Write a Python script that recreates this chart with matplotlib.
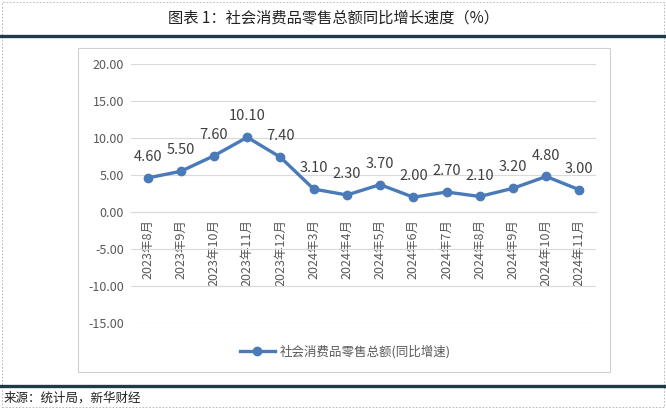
import matplotlib.pyplot as plt
from matplotlib.lines import Line2D
from matplotlib.patches import Rectangle

plt.rcParams['font.family'] = ['Noto Sans CJK SC', 'DejaVu Sans']

# 数据
months = ['2023年8月', '2023年9月', '2023年10月', '2023年11月', '2023年12月',
          '2024年3月', '2024年4月', '2024年5月', '2024年6月', '2024年7月',
          '2024年8月', '2024年9月', '2024年10月', '2024年11月']
values = [4.60, 5.50, 7.60, 10.10, 7.40, 3.10, 2.30, 3.70, 2.00, 2.70, 2.10, 3.20, 4.80, 3.00]
y_ticks = [-15, -10, -5, 0, 5, 10, 15, 20]

line_color = '#4a7ab8'
text_gray = '#595959'

fig = plt.figure(figsize=(6.66, 4.09), dpi=100)
W, H = 666, 409

# 外框 / 标题 / 分隔线
fig.add_artist(Rectangle((2 / W, 2 / H), 1 - 4 / W, 1 - 4 / H, transform=fig.transFigure,
                         fill=False, edgecolor='#b0b0b0', linestyle=(0, (2, 2)), linewidth=0.6))
fig.text(0.5, 1 - 18 / H, '图表 1：社会消费品零售总额同比增长速度（%）',
         ha='center', va='center', fontsize=11, color='#222222')
fig.add_artist(Line2D([0, 1], [1 - 35.5 / H] * 2, transform=fig.transFigure,
                      color='#1f3a4b', linewidth=2.4))
fig.add_artist(Line2D([0, 1], [1 - 386 / H] * 2, transform=fig.transFigure,
                      color='#1f3a4b', linewidth=2.4))
fig.text(4 / W, 1 - 398 / H, '来源：统计局，新华财经', ha='left', va='center',
         fontsize=9, color='#222222')

# 图表区边框
fig.add_artist(Rectangle((78 / W, 1 - 372 / H), (610 - 78) / W, (372 - 48) / H,
                         transform=fig.transFigure, fill=False, edgecolor='#d0d0d0', linewidth=0.8))

ax = fig.add_axes([131 / W, 1 - 323 / H, (596 - 131) / W, (323 - 64) / H])
x = list(range(len(months)))
ax.plot(x, values, color=line_color, linewidth=2.4, marker='o', markersize=6, zorder=3)

for xi, v in zip(x, values):
    ax.annotate(f'{v:.2f}', (xi, v), xytext=(0, 10), textcoords='offset points',
                ha='center', va='bottom', fontsize=10.5, color='#404040')

ax.set_xlim(-0.5, len(months) - 0.5)
ax.set_ylim(-15, 20)
ax.set_yticks(y_ticks)
ax.set_yticklabels([f'{t:.2f}' for t in y_ticks], fontsize=9, color=text_gray)
ax.grid(axis='y', color='#d9d9d9', linewidth=0.8)
ax.set_axisbelow(True)

ax.spines['bottom'].set_position(('data', 0))
ax.spines['bottom'].set_color('#d9d9d9')
for s in ['top', 'right', 'left']:
    ax.spines[s].set_visible(False)
ax.set_xticks(x)
ax.set_xticklabels(months, rotation=90, fontsize=9, color=text_gray, va='top')
ax.tick_params(axis='both', length=0, pad=5)

handle = Line2D([], [], color=line_color, linewidth=2.4, marker='o', markersize=6)
fig.legend([handle], ['社会消费品零售总额(同比增速)'], loc='center', bbox_to_anchor=(345 / W, 1 - 352 / H),
           frameon=False, fontsize=9, labelcolor=text_gray, handlelength=2.8, handletextpad=0.4)

fig.savefig('out.png', dpi=100)
